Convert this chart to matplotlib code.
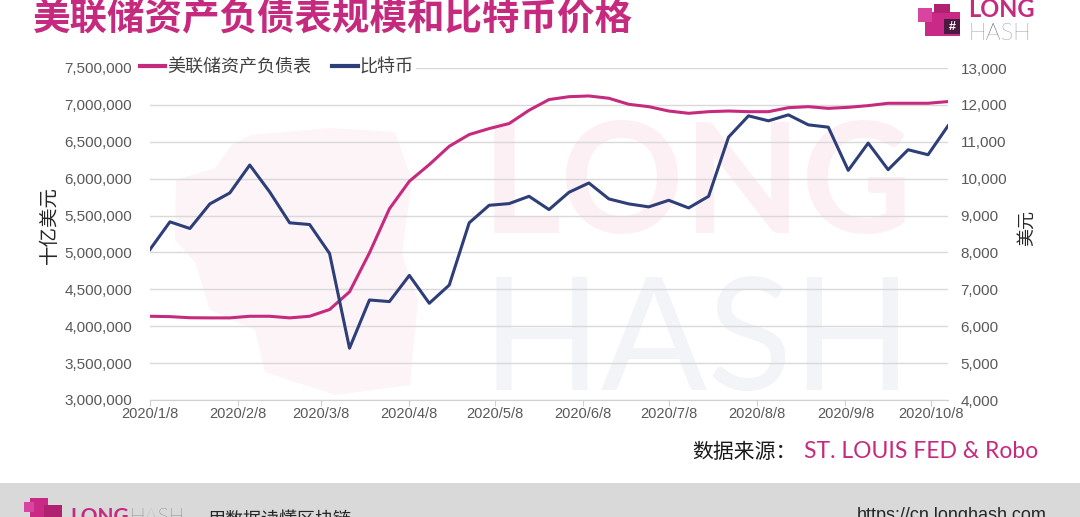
import matplotlib.pyplot as plt
import pandas as pd
from matplotlib.patches import Rectangle, Polygon
from matplotlib.ticker import FuncFormatter

plt.rcParams['font.family'] = ['Liberation Sans', 'Noto Sans CJK SC']

# weekly observations (Wednesdays)
dates = ['2020-01-08', '2020-01-15', '2020-01-22', '2020-01-29', '2020-02-05', '2020-02-12',
         '2020-02-19', '2020-02-26', '2020-03-04', '2020-03-11', '2020-03-18', '2020-03-25',
         '2020-04-01', '2020-04-08', '2020-04-15', '2020-04-22', '2020-04-29', '2020-05-06',
         '2020-05-13', '2020-05-20', '2020-05-27', '2020-06-03', '2020-06-10', '2020-06-17',
         '2020-06-24', '2020-07-01', '2020-07-08', '2020-07-15', '2020-07-22', '2020-07-29',
         '2020-08-05', '2020-08-12', '2020-08-19', '2020-08-26', '2020-09-02', '2020-09-09',
         '2020-09-16', '2020-09-23', '2020-09-30', '2020-10-07', '2020-10-14']

fed_assets = [4135000, 4130000, 4115000, 4113000, 4113000, 4135000, 4135000, 4113000, 4135000, 4226000,
              4466000, 4994000, 5591000, 5965000, 6191000, 6439000, 6598000, 6679000, 6747000, 6927000,
              7072000, 7111000, 7121000, 7090000, 7008000, 6976000, 6917000, 6886000, 6908000, 6917000,
              6908000, 6908000, 6962000, 6976000, 6953000, 6967000, 6990000, 7022000, 7022000, 7022000,
              7045000]

btc_price = [8081, 8830, 8649, 9316, 9613, 10370, 9640, 8803, 8757, 7973,
             5405, 6711, 6668, 7378, 6622, 7116, 8803, 9278, 9324, 9522,
             9162, 9630, 9883, 9451, 9316, 9235, 9414, 9207, 9522, 11127,
             11703, 11568, 11730, 11459, 11396, 10225, 10964, 10243, 10784, 10649,
             11432]

tick_dates = ['2020-01-08', '2020-02-08', '2020-03-08', '2020-04-08', '2020-05-08',
              '2020-06-08', '2020-07-08', '2020-08-08', '2020-09-08', '2020-10-08']
tick_labels = ['2020/1/8', '2020/2/8', '2020/3/8', '2020/4/8', '2020/5/8',
               '2020/6/8', '2020/7/8', '2020/8/8', '2020/9/8', '2020/10/8']

left_ticks = list(range(3000000, 7500001, 500000))
right_ticks = list(range(4000, 13001, 1000))

PINK = '#c62a7f'
NAVY = '#2d3e78'
GRAY = '#595959'
W, H = 1080, 517


def fx(x):
    return x / W


def fy(y):
    return 1 - y / H


def rect(x0, y0, x1, y1, color, z=1):
    fig.add_artist(Rectangle((fx(x0), fy(y1)), (x1 - x0) / W, (y1 - y0) / H,
                             transform=fig.transFigure, color=color, zorder=z, lw=0))


fig = plt.figure(figsize=(10.8, 5.17), dpi=100)

# watermark
blob = [(250, 135), (330, 128), (395, 132), (412, 180), (402, 255), (418, 300), (410, 385),
        (335, 395), (265, 372), (255, 330), (210, 310), (195, 262), (175, 240), (176, 180),
        (215, 168), (232, 145)]
fig.add_artist(Polygon([(fx(a), fy(b)) for a, b in blob], closed=True, transform=fig.transFigure,
                       color='#fdf4f7', zorder=-1, lw=0))
fig.text(fx(482), fy(233), 'LONG', family='Lato', fontweight='bold', fontsize=110,
         color='#fdf0f4', zorder=-1)
fig.text(fx(482), fy(390), 'HASH', family='Lato', fontweight='normal', fontsize=113,
         color='#f3f4f8', zorder=-1)

ax = fig.add_axes([fx(150), fy(400), (948 - 150) / W, (400 - 68) / H])
ax.patch.set_visible(False)
ax2 = ax.twinx()

x = pd.to_datetime(dates)
l1, = ax.plot(x, fed_assets, color=PINK, lw=2.2, solid_joinstyle='round')
l2, = ax2.plot(x, btc_price, color=NAVY, lw=2.2, solid_joinstyle='round')

ax.set_xlim(x[0], x[-1])
ax.set_ylim(3000000, 7500000)
ax2.set_ylim(4000, 13000)
ax.set_yticks(left_ticks)
ax2.set_yticks(right_ticks)
ax.yaxis.set_major_formatter(FuncFormatter(lambda v, p: f'{int(v):,}'))
ax2.yaxis.set_major_formatter(FuncFormatter(lambda v, p: f'{int(v):,}'))
ax.set_xticks(pd.to_datetime(tick_dates))
ax.set_xticklabels(tick_labels)

ax.grid(axis='y', color='#d9d9d9', lw=1)
ax.set_axisbelow(True)
for a in (ax, ax2):
    for s in ('top', 'left', 'right'):
        a.spines[s].set_visible(False)
    a.spines['bottom'].set_color('#d0d0d0')
ax2.spines['bottom'].set_visible(False)

ax.tick_params(axis='y', length=0, pad=13, labelsize=11, labelcolor=GRAY)
ax2.tick_params(axis='y', length=0, pad=9, labelsize=11, labelcolor=GRAY)
ax.tick_params(axis='x', length=4, color='#d0d0d0', pad=1, labelsize=10.5, labelcolor=GRAY)

fig.text(fx(50), fy(225), '十亿美元', rotation=90, fontsize=14, color='#262626', ha='center', va='center')
fig.text(fx(1028), fy(228), '美元', rotation=90, fontsize=13, color='#262626', ha='center', va='center')

leg = ax2.legend([l1, l2], ['美联储资产负债表', '比特币'], loc='center left',
                 bbox_to_anchor=(fx(137), fy(68)), bbox_transform=fig.transFigure,
                 ncol=2, frameon=True, fontsize=13, handlelength=1.4, handletextpad=0.1,
                 columnspacing=1.2, borderpad=0.15, borderaxespad=0)
leg.get_frame().set_facecolor('white')
leg.get_frame().set_edgecolor('none')
leg.get_frame().set_alpha(1)
for t in leg.get_texts():
    t.set_color('#404040')
for h in leg.legend_handles:
    h.set_linewidth(3)

# title and logo
fig.text(fx(33), fy(18), '美联储资产负债表规模和比特币价格', fontsize=27, fontweight='bold',
         color=PINK, family='Noto Sans CJK SC', va='center', ha='left')
rect(925, 12, 960, 36, '#c82a86')
rect(918, 8, 932, 22, '#d845a0')
rect(934, 4, 950, 13, '#b0226f')
rect(944, 19, 960, 34, '#4a1a40', z=2)
fig.text(fx(952), fy(27), '#', fontsize=9, color='white', ha='center', va='center',
         fontweight='bold', zorder=3)
fig.text(fx(968), fy(17), 'LONG', family='Lato', fontweight='bold', fontsize=17, color=PINK)
fig.text(fx(968), fy(40), 'HASH', family='Lato', fontweight='light', fontsize=17, color='#3a4654')

# source
fig.text(fx(692), fy(452), '数据来源：', fontsize=15, color='#1a1a1a', va='center', ha='left')
fig.text(fx(1038), fy(452), 'ST. LOUIS FED & Robo', family='Lato', fontsize=16.5,
         color=PINK, va='center', ha='right')

# footer
rect(0, 483, 1080, 517, '#d9d9d9', z=-2)
rect(30, 498, 48, 517, '#c82a86')
rect(24, 502, 34, 512, '#d845a0')
rect(44, 505, 62, 517, '#b0226f')
fig.text(fx(70), fy(523), 'LONG', family='Lato', fontweight='bold', fontsize=15, color=PINK)
fig.text(fx(130), fy(523), 'HASH', family='Lato', fontweight='light', fontsize=15, color='#3a4654')
fig.text(fx(207), fy(525), '用数据读懂区块链', fontsize=13, color='#262626')
fig.text(fx(857), fy(520), 'https://cn.longhash.com', fontsize=13, color='#262626')

fig.savefig('out.png', dpi=100)
